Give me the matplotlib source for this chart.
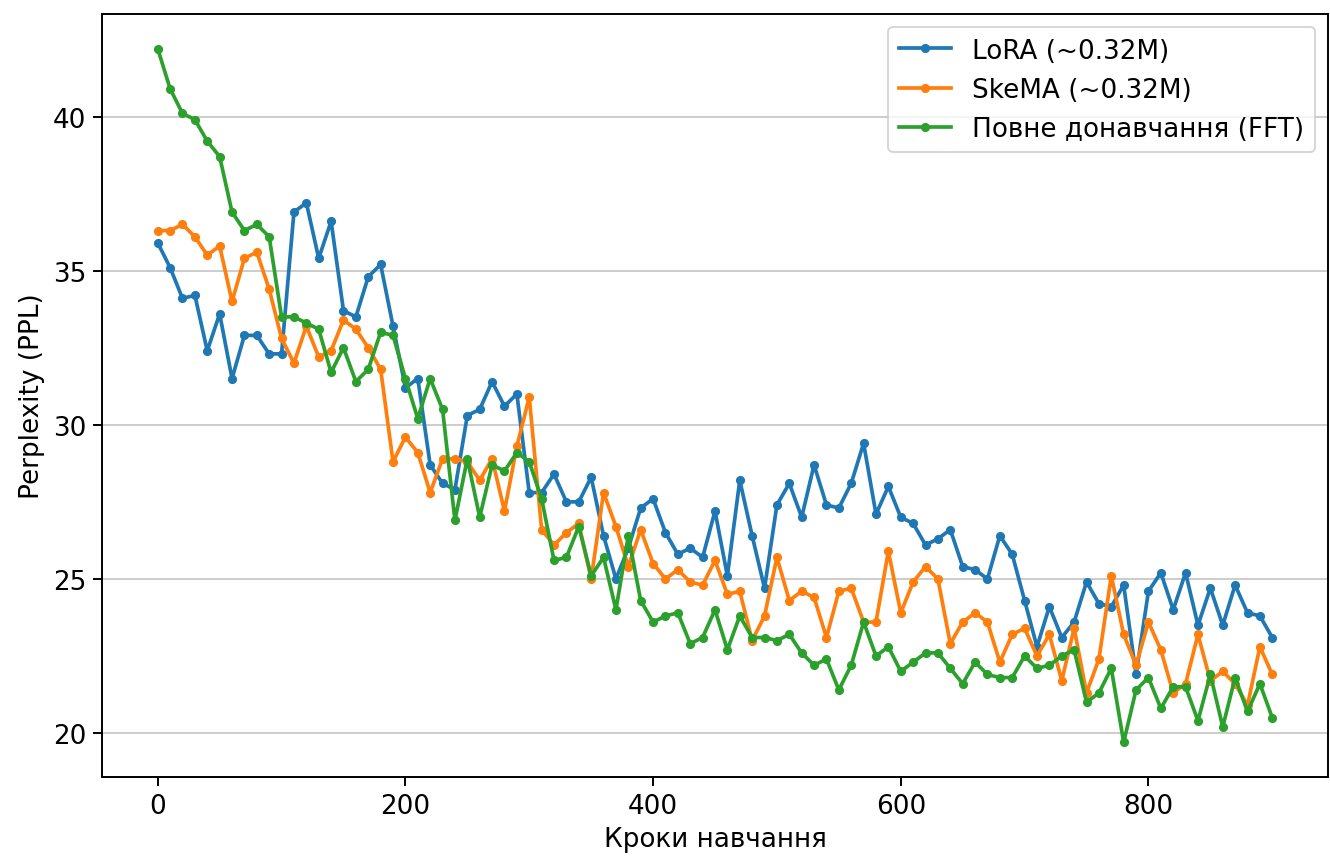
import matplotlib
matplotlib.use("Agg")
import matplotlib.pyplot as plt
import numpy as np

steps = list(range(0, 901, 10))

lora = [35.9, 35.1, 34.1, 34.2, 32.4, 33.6, 31.5, 32.9, 32.9, 32.3,
        32.3, 36.9, 37.2, 35.4, 36.6, 33.7, 33.5, 34.8, 35.2, 33.2,
        31.2, 31.5, 28.7, 28.1, 27.9, 30.3, 30.5, 31.4, 30.6, 31.0,
        27.8, 27.8, 28.4, 27.5, 27.5, 28.3, 26.4, 25.0, 26.0, 27.3,
        27.6, 26.5, 25.8, 26.0, 25.7, 27.2, 25.1, 28.2, 26.4, 24.7,
        27.4, 28.1, 27.0, 28.7, 27.4, 27.3, 28.1, 29.4, 27.1, 28.0,
        27.0, 26.8, 26.1, 26.3, 26.6, 25.4, 25.3, 25.0, 26.4, 25.8,
        24.3, 22.8, 24.1, 23.1, 23.6, 24.9, 24.2, 24.1, 24.8, 21.9,
        24.6, 25.2, 24.0, 25.2, 23.5, 24.7, 23.5, 24.8, 23.9, 23.8,
        23.1]

skema = [36.3, 36.3, 36.5, 36.1, 35.5, 35.8, 34.0, 35.4, 35.6, 34.4,
         32.8, 32.0, 33.2, 32.2, 32.4, 33.4, 33.1, 32.5, 31.8, 28.8,
         29.6, 29.1, 27.8, 28.9, 28.9, 28.8, 28.2, 28.9, 27.2, 29.3,
         30.9, 26.6, 26.1, 26.5, 26.8, 25.0, 27.8, 26.7, 25.4, 26.6,
         25.5, 25.0, 25.3, 24.9, 24.8, 25.6, 24.5, 24.6, 23.0, 23.8,
         25.7, 24.3, 24.6, 24.4, 23.1, 24.6, 24.7, 23.6, 23.6, 25.9,
         23.9, 24.9, 25.4, 25.0, 22.9, 23.6, 23.9, 23.6, 22.3, 23.2,
         23.4, 22.5, 23.2, 21.7, 23.4, 21.3, 22.4, 25.1, 23.2, 22.2,
         23.6, 22.7, 21.3, 21.6, 23.2, 21.7, 22.0, 21.6, 20.9, 22.8,
         21.9]

fft = [42.2, 40.9, 40.1, 39.9, 39.2, 38.7, 36.9, 36.3, 36.5, 36.1,
       33.5, 33.5, 33.3, 33.1, 31.7, 32.5, 31.4, 31.8, 33.0, 32.9,
       31.5, 30.2, 31.5, 30.5, 26.9, 28.9, 27.0, 28.7, 28.5, 29.1,
       28.8, 27.6, 25.6, 25.7, 26.7, 25.1, 25.7, 24.0, 26.4, 24.3,
       23.6, 23.8, 23.9, 22.9, 23.1, 24.0, 22.7, 23.8, 23.1, 23.1,
       23.0, 23.2, 22.6, 22.2, 22.4, 21.4, 22.2, 23.6, 22.5, 22.8,
       22.0, 22.3, 22.6, 22.6, 22.1, 21.6, 22.3, 21.9, 21.8, 21.8,
       22.5, 22.1, 22.2, 22.5, 22.7, 21.0, 21.3, 22.1, 19.7, 21.4,
       21.8, 20.8, 21.5, 21.5, 20.4, 21.9, 20.2, 21.8, 20.7, 21.6,
       20.5]

labels = ["LoRA (~0.32M)", "SkeMA (~0.32M)", "Повне донавчання (FFT)"]

fig = plt.figure(figsize=(9.5, 857 / 140), dpi=140)
ax = fig.add_axes([102 / 1330, 1 - 778 / 857, 1226 / 1330, 763 / 857])

for series, label in zip([lora, skema, fft], labels):
    ax.plot(steps, series, marker="o", markersize=3.7, linewidth=1.9, label=label)

fs = 13.5
ax.set_xlabel("Кроки навчання", fontsize=fs)
ax.set_ylabel("Perplexity (PPL)", fontsize=fs)
ax.tick_params(labelsize=fs, length=4.5, width=1)
ax.set_yticks([20, 25, 30, 35, 40])
ax.grid(axis="y", color="#cccccc", linewidth=1)
for sp in ax.spines.values():
    sp.set_linewidth(1)
ax.legend(loc="upper right", fontsize=fs)

fig.savefig("out.png", dpi=140)
